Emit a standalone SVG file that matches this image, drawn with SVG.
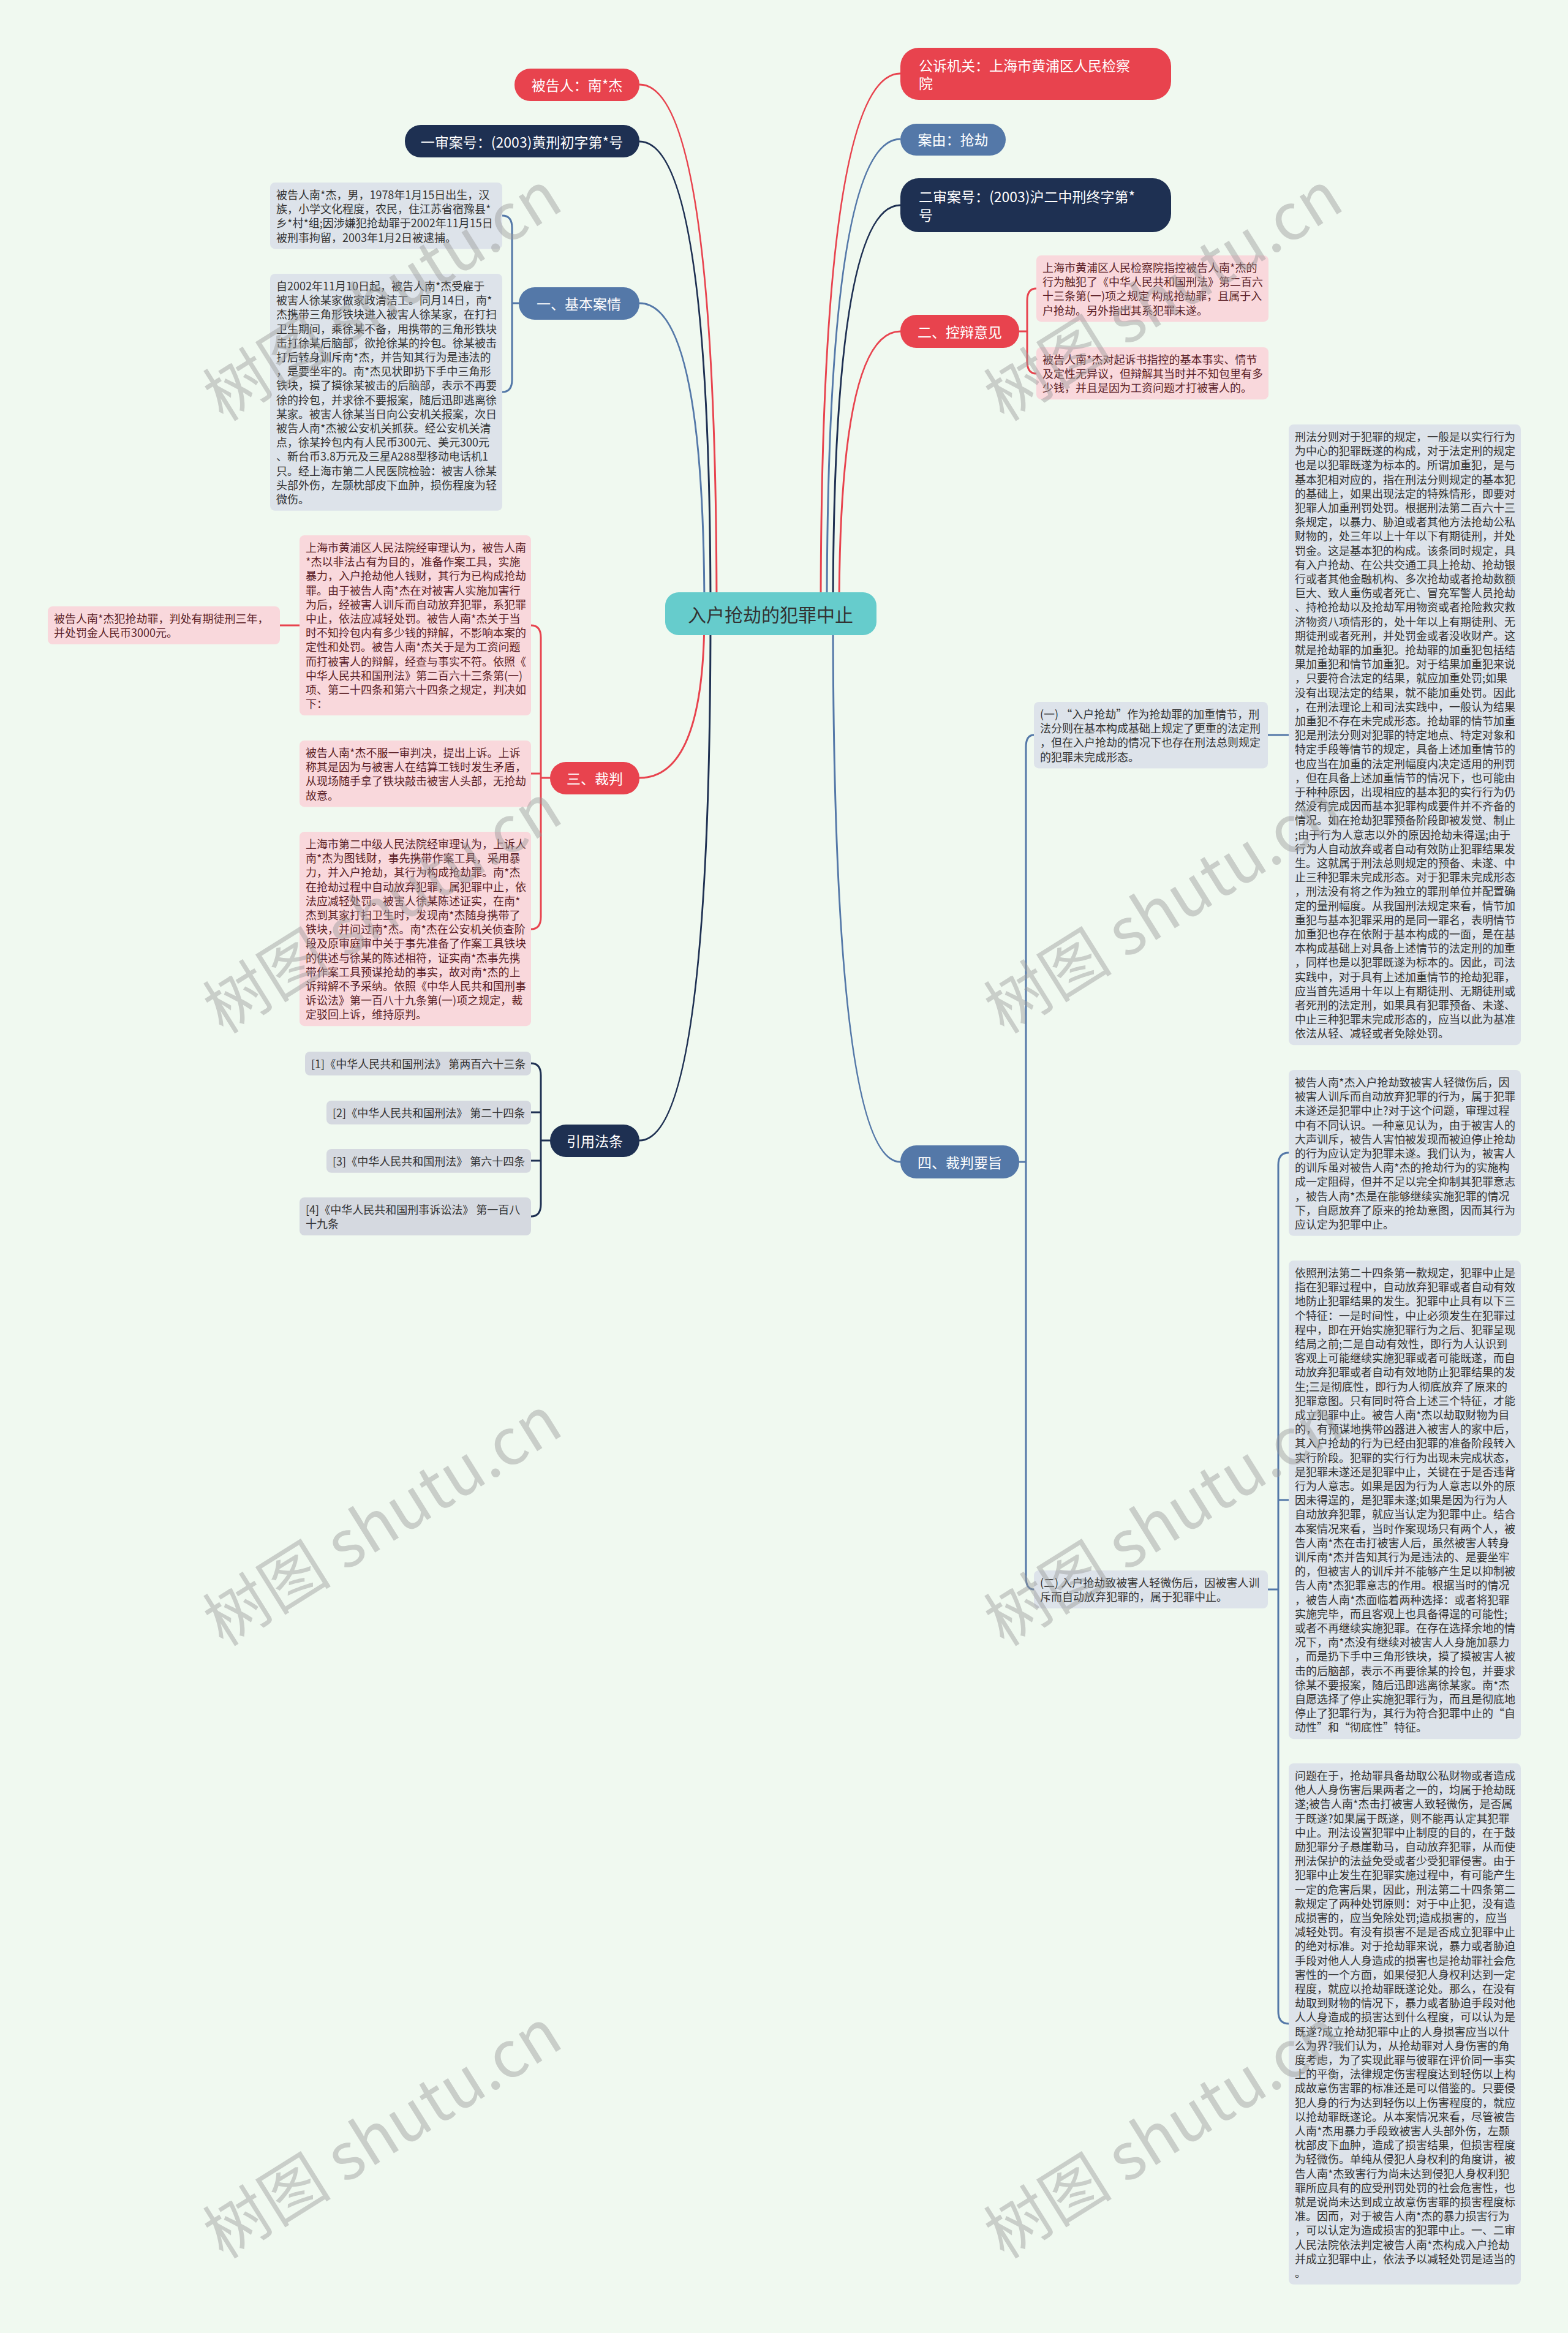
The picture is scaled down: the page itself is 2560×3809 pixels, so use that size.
<svg xmlns="http://www.w3.org/2000/svg" width="2560" height="3809" viewBox="0 0 2560 3809">
<style>
.t{font-family:"Noto Sans CJK SC","Liberation Sans",sans-serif;font-size:18px;fill:#333}
.tp{font-family:"Noto Sans CJK SC","Liberation Sans",sans-serif;font-size:18px;fill:#5b1f26}
.n{font-family:"Noto Sans CJK SC","Liberation Sans",sans-serif;font-size:23px;fill:#fff;dominant-baseline:central}
.c{font-family:"Noto Sans CJK SC","Liberation Sans",sans-serif;font-size:30px;fill:#333;dominant-baseline:central;text-anchor:middle}
.g{fill:#dde3ea}
.p{fill:#f9d8dc}
.q{fill:#d5d9e0}
.red{fill:#e8434e}
.navy{fill:#1e3052}
.blue{fill:#5478a8}
.lr{fill:none;stroke:#e8434e;stroke-width:3}
.ln{fill:none;stroke:#1e3052;stroke-width:3}
.lb{fill:none;stroke:#5478a8;stroke-width:3}
.wm{font-family:"Noto Sans CJK SC","Liberation Sans",sans-serif;font-size:105px;fill:#9a9a9a;fill-opacity:0.45}
</style>
<rect width="2560" height="3809" fill="#f0f9f0"/>
<g id="connectors">
<path class="lr" d="M1170,1002 Q1170,138 1044,138"/>
<path class="ln" d="M1160,1002 Q1160,231 1044,231"/>
<path class="lb" d="M1150,1002 Q1150,495 1044,495"/>
<path class="lr" d="M1150,1002 Q1150,1270 1044,1270"/>
<path class="ln" d="M1160,1002 Q1160,1862 1044,1862"/>
<path class="lr" d="M1340,1002 Q1340,120 1470,120"/>
<path class="lb" d="M1350,1002 Q1350,227 1470,227"/>
<path class="ln" d="M1360,1002 Q1360,335 1470,335"/>
<path class="lr" d="M1370,1002 Q1370,541 1470,541"/>
<path class="lb" d="M1360,1002 Q1360,1897 1470,1897"/>
<path class="lb" d="M820,352 Q836,352 836,372 L836,620 Q836,640 820,640 M836,495 L847,495"/>
<path class="lr" d="M867,1021 Q883,1021 883,1041 L883,1497 Q883,1517 867,1517 M867,1263 L883,1263 M883,1270 L898,1270"/>
<path class="lr" d="M489,1021 L457,1021"/>
<path class="ln" d="M867,1736 Q883,1736 883,1756 L883,1966 Q883,1986 867,1986 M867,1816 L883,1816 M867,1895 L883,1895 M883,1862 L898,1862"/>
<path class="lr" d="M1692,471 Q1677,471 1677,491 L1677,590 Q1677,610 1692,610 M1664,541 L1677,541"/>
<path class="lb" d="M1688,1200 Q1675,1200 1675,1220 L1675,2575 Q1675,2595 1688,2595 M1664,1897 L1675,1897"/>
<path class="lb" d="M2070,1200 L2104,1200"/>
<path class="lb" d="M2104,1882 Q2087,1882 2087,1902 L2087,3284 Q2087,3304 2104,3304 M2104,2449 L2087,2449 M2070,2595 L2087,2595"/>
</g>
<g id="center"><rect x="1086" y="967" width="345" height="70" rx="22" fill="#66cccc"/><text class="c" x="1258" y="1002">入户抢劫的犯罪中止</text></g>
<g id="n-defendant"><rect class="red" x="840" y="112" width="204" height="53" rx="26"/><text class="n" x="942" y="138" text-anchor="middle">被告人：南*杰</text></g>
<g id="n-case1"><rect class="navy" x="661" y="204" width="383" height="53" rx="26"/><text class="n" x="852" y="231" text-anchor="middle">一审案号：(2003)黄刑初字第*号</text></g>
<g id="n-facts"><rect class="blue" x="847" y="469" width="197" height="53" rx="26"/><text class="n" x="945" y="495" text-anchor="middle">一、基本案情</text></g>
<g id="n-judge"><rect class="red" x="898" y="1244" width="146" height="53" rx="26"/><text class="n" x="971" y="1270" text-anchor="middle">三、裁判</text></g>
<g id="n-law"><rect class="navy" x="898" y="1836" width="146" height="53" rx="26"/><text class="n" x="971" y="1862" text-anchor="middle">引用法条</text></g>
<g id="n-prosecutor"><rect class="red" x="1470" y="78" width="442" height="85" rx="30"/><text class="n" x="1500" y="106">公诉机关：上海市黄浦区人民检察</text><text class="n" x="1500" y="135">院</text></g>
<g id="n-cause"><rect class="blue" x="1470" y="202" width="172" height="52" rx="26"/><text class="n" x="1556" y="227" text-anchor="middle">案由：抢劫</text></g>
<g id="n-case2"><rect class="navy" x="1470" y="291" width="442" height="88" rx="30"/><text class="n" x="1500" y="320">二审案号：(2003)沪二中刑终字第*</text><text class="n" x="1500" y="350">号</text></g>
<g id="n-debate"><rect class="red" x="1470" y="514" width="194" height="54" rx="26"/><text class="n" x="1567" y="541" text-anchor="middle">二、控辩意见</text></g>
<g id="n-gist"><rect class="blue" x="1470" y="1870" width="194" height="54" rx="26"/><text class="n" x="1567" y="1897" text-anchor="middle">四、裁判要旨</text></g>
<g id="facts-1"><rect class="g" x="441" y="298" width="379" height="108.4" rx="8"/><text class="t" y="325"><tspan x="451">被告人南*杰，男，1978年1月15日出生，汉</tspan><tspan x="451" dy="23.2">族，小学文化程度，农民，住江苏省宿豫县*</tspan><tspan x="451" dy="23.2">乡*村*组;因涉嫌犯抢劫罪于2002年11月15日</tspan><tspan x="451" dy="23.2">被刑事拘留，2003年1月2日被逮捕。</tspan></text></g>
<g id="facts-2"><rect class="g" x="441" y="447" width="379" height="386.8" rx="8"/><text class="t" y="474"><tspan x="451">自2002年11月10日起，被告人南*杰受雇于</tspan><tspan x="451" dy="23.2">被害人徐某家做家政清洁工。同月14日，南*</tspan><tspan x="451" dy="23.2">杰携带三角形铁块进入被害人徐某家，在打扫</tspan><tspan x="451" dy="23.2">卫生期间，乘徐某不备，用携带的三角形铁块</tspan><tspan x="451" dy="23.2">击打徐某后脑部，欲抢徐某的拎包。徐某被击</tspan><tspan x="451" dy="23.2">打后转身训斥南*杰，并告知其行为是违法的</tspan><tspan x="451" dy="23.2">，是要坐牢的。南*杰见状即扔下手中三角形</tspan><tspan x="451" dy="23.2">铁块，摸了摸徐某被击的后脑部，表示不再要</tspan><tspan x="451" dy="23.2">徐的拎包，并求徐不要报案，随后迅即逃离徐</tspan><tspan x="451" dy="23.2">某家。被害人徐某当日向公安机关报案，次日</tspan><tspan x="451" dy="23.2">被告人南*杰被公安机关抓获。经公安机关清</tspan><tspan x="451" dy="23.2">点，徐某拎包内有人民币300元、美元300元</tspan><tspan x="451" dy="23.2">、新台币3.8万元及三星A288型移动电话机1</tspan><tspan x="451" dy="23.2">只。经上海市第二人民医院检验：被害人徐某</tspan><tspan x="451" dy="23.2">头部外伤，左颞枕部皮下血肿，损伤程度为轻</tspan><tspan x="451" dy="23.2">微伤。</tspan></text></g>
<g id="judge-1"><rect class="p" x="489" y="874" width="378" height="294" rx="8"/><text class="tp" y="901"><tspan x="499">上海市黄浦区人民法院经审理认为，被告人南</tspan><tspan x="499" dy="23.2">*杰以非法占有为目的，准备作案工具，实施</tspan><tspan x="499" dy="23.2">暴力，入户抢劫他人钱财，其行为已构成抢劫</tspan><tspan x="499" dy="23.2">罪。由于被告人南*杰在对被害人实施加害行</tspan><tspan x="499" dy="23.2">为后，经被害人训斥而自动放弃犯罪，系犯罪</tspan><tspan x="499" dy="23.2">中止，依法应减轻处罚。被告人南*杰关于当</tspan><tspan x="499" dy="23.2">时不知拎包内有多少钱的辩解，不影响本案的</tspan><tspan x="499" dy="23.2">定性和处罚。被告人南*杰关于是为工资问题</tspan><tspan x="499" dy="23.2">而打被害人的辩解，经查与事实不符。依照《</tspan><tspan x="499" dy="23.2">中华人民共和国刑法》第二百六十三条第(一)</tspan><tspan x="499" dy="23.2">项、第二十四条和第六十四条之规定，判决如</tspan><tspan x="499" dy="23.2">下：</tspan></text></g>
<g id="judge-1a"><rect class="p" x="78" y="990" width="379" height="62" rx="8"/><text class="tp" y="1017"><tspan x="88">被告人南*杰犯抢劫罪，判处有期徒刑三年，</tspan><tspan x="88" dy="23.2">并处罚金人民币3000元。</tspan></text></g>
<g id="judge-2"><rect class="p" x="489" y="1209" width="378" height="108.4" rx="8"/><text class="tp" y="1236"><tspan x="499">被告人南*杰不服一审判决，提出上诉。上诉</tspan><tspan x="499" dy="23.2">称其是因为与被害人在结算工钱时发生矛盾，</tspan><tspan x="499" dy="23.2">从现场随手拿了铁块敲击被害人头部，无抢劫</tspan><tspan x="499" dy="23.2">故意。</tspan></text></g>
<g id="judge-3"><rect class="p" x="489" y="1358" width="378" height="317.2" rx="8"/><text class="tp" y="1385"><tspan x="499">上海市第二中级人民法院经审理认为，上诉人</tspan><tspan x="499" dy="23.2">南*杰为图钱财，事先携带作案工具，采用暴</tspan><tspan x="499" dy="23.2">力，并入户抢劫，其行为构成抢劫罪。南*杰</tspan><tspan x="499" dy="23.2">在抢劫过程中自动放弃犯罪，属犯罪中止，依</tspan><tspan x="499" dy="23.2">法应减轻处罚。被害人徐某陈述证实，在南*</tspan><tspan x="499" dy="23.2">杰到其家打扫卫生时，发现南*杰随身携带了</tspan><tspan x="499" dy="23.2">铁块，并问过南*杰。南*杰在公安机关侦查阶</tspan><tspan x="499" dy="23.2">段及原审庭审中关于事先准备了作案工具铁块</tspan><tspan x="499" dy="23.2">的供述与徐某的陈述相符，证实南*杰事先携</tspan><tspan x="499" dy="23.2">带作案工具预谋抢劫的事实，故对南*杰的上</tspan><tspan x="499" dy="23.2">诉辩解不予采纳。依照《中华人民共和国刑事</tspan><tspan x="499" dy="23.2">诉讼法》第一百八十九条第(一)项之规定，裁</tspan><tspan x="499" dy="23.2">定驳回上诉，维持原判。</tspan></text></g>
<g id="law-1"><rect class="q" x="498" y="1717" width="369" height="38.8" rx="8"/><text class="t" x="508" y="1744">[1]《中华人民共和国刑法》 第两百六十三条</text></g>
<g id="law-2"><rect class="q" x="533" y="1797" width="334" height="38.8" rx="8"/><text class="t" x="543" y="1824">[2]《中华人民共和国刑法》 第二十四条</text></g>
<g id="law-3"><rect class="q" x="533" y="1876" width="334" height="38.8" rx="8"/><text class="t" x="543" y="1903">[3]《中华人民共和国刑法》 第六十四条</text></g>
<g id="law-4"><rect class="q" x="489" y="1955" width="378" height="62" rx="8"/><text class="t" y="1982"><tspan x="499">[4]《中华人民共和国刑事诉讼法》 第一百八</tspan><tspan x="499" dy="23.2">十九条</tspan></text></g>
<g id="debate-1"><rect class="p" x="1692" y="417" width="379" height="108.4" rx="8"/><text class="tp" y="444"><tspan x="1702">上海市黄浦区人民检察院指控被告人南*杰的</tspan><tspan x="1702" dy="23.2">行为触犯了《中华人民共和国刑法》第二百六</tspan><tspan x="1702" dy="23.2">十三条第(一)项之规定 构成抢劫罪，且属于入</tspan><tspan x="1702" dy="23.2">户抢劫。另外指出其系犯罪未遂。</tspan></text></g>
<g id="debate-2"><rect class="p" x="1692" y="567" width="379" height="85.2" rx="8"/><text class="tp" y="594"><tspan x="1702">被告人南*杰对起诉书指控的基本事实、情节</tspan><tspan x="1702" dy="23.2">及定性无异议，但辩解其当时并不知包里有多</tspan><tspan x="1702" dy="23.2">少钱，并且是因为工资问题才打被害人的。</tspan></text></g>
<g id="gist-1"><rect class="g" x="1688" y="1146" width="382" height="108.4" rx="8"/><text class="t" y="1173"><tspan x="1698">(一) “入户抢劫”作为抢劫罪的加重情节，刑</tspan><tspan x="1698" dy="23.2">法分则在基本构成基础上规定了更重的法定刑</tspan><tspan x="1698" dy="23.2">，但在入户抢劫的情况下也存在刑法总则规定</tspan><tspan x="1698" dy="23.2">的犯罪未完成形态。</tspan></text></g>
<g id="gist-2"><rect class="g" x="1688" y="2564" width="382" height="62" rx="8"/><text class="t" y="2591"><tspan x="1698">(二) 入户抢劫致被害人轻微伤后，因被害人训</tspan><tspan x="1698" dy="23.2">斥而自动放弃犯罪的，属于犯罪中止。</tspan></text></g>
<g id="gist-1a"><rect class="g" x="2104" y="693" width="379" height="1013.2" rx="8"/><text class="t" y="720"><tspan x="2114">刑法分则对于犯罪的规定，一般是以实行行为</tspan><tspan x="2114" dy="23.2">为中心的犯罪既遂的构成，对于法定刑的规定</tspan><tspan x="2114" dy="23.2">也是以犯罪既遂为标本的。所谓加重犯，是与</tspan><tspan x="2114" dy="23.2">基本犯相对应的，指在刑法分则规定的基本犯</tspan><tspan x="2114" dy="23.2">的基础上，如果出现法定的特殊情形，即要对</tspan><tspan x="2114" dy="23.2">犯罪人加重刑罚处罚。根据刑法第二百六十三</tspan><tspan x="2114" dy="23.2">条规定，以暴力、胁迫或者其他方法抢劫公私</tspan><tspan x="2114" dy="23.2">财物的，处三年以上十年以下有期徒刑，并处</tspan><tspan x="2114" dy="23.2">罚金。这是基本犯的构成。该条同时规定，具</tspan><tspan x="2114" dy="23.2">有入户抢劫、在公共交通工具上抢劫、抢劫银</tspan><tspan x="2114" dy="23.2">行或者其他金融机构、多次抢劫或者抢劫数额</tspan><tspan x="2114" dy="23.2">巨大、致人重伤或者死亡、冒充军警人员抢劫</tspan><tspan x="2114" dy="23.2">、持枪抢劫以及抢劫军用物资或者抢险救灾救</tspan><tspan x="2114" dy="23.2">济物资八项情形的，处十年以上有期徒刑、无</tspan><tspan x="2114" dy="23.2">期徒刑或者死刑，并处罚金或者没收财产。这</tspan><tspan x="2114" dy="23.2">就是抢劫罪的加重犯。抢劫罪的加重犯包括结</tspan><tspan x="2114" dy="23.2">果加重犯和情节加重犯。对于结果加重犯来说</tspan><tspan x="2114" dy="23.2">，只要符合法定的结果，就应加重处罚;如果</tspan><tspan x="2114" dy="23.2">没有出现法定的结果，就不能加重处罚。因此</tspan><tspan x="2114" dy="23.2">，在刑法理论上和司法实践中，一般认为结果</tspan><tspan x="2114" dy="23.2">加重犯不存在未完成形态。抢劫罪的情节加重</tspan><tspan x="2114" dy="23.2">犯是刑法分则对犯罪的特定地点、特定对象和</tspan><tspan x="2114" dy="23.2">特定手段等情节的规定，具备上述加重情节的</tspan><tspan x="2114" dy="23.2">也应当在加重的法定刑幅度内决定适用的刑罚</tspan><tspan x="2114" dy="23.2">，但在具备上述加重情节的情况下，也可能由</tspan><tspan x="2114" dy="23.2">于种种原因，出现相应的基本犯的实行行为仍</tspan><tspan x="2114" dy="23.2">然没有完成因而基本犯罪构成要件并不齐备的</tspan><tspan x="2114" dy="23.2">情况。如在抢劫犯罪预备阶段即被发觉、制止</tspan><tspan x="2114" dy="23.2">;由于行为人意志以外的原因抢劫未得逞;由于</tspan><tspan x="2114" dy="23.2">行为人自动放弃或者自动有效防止犯罪结果发</tspan><tspan x="2114" dy="23.2">生。这就属于刑法总则规定的预备、未遂、中</tspan><tspan x="2114" dy="23.2">止三种犯罪未完成形态。对于犯罪未完成形态</tspan><tspan x="2114" dy="23.2">，刑法没有将之作为独立的罪刑单位并配置确</tspan><tspan x="2114" dy="23.2">定的量刑幅度。从我国刑法规定来看，情节加</tspan><tspan x="2114" dy="23.2">重犯与基本犯罪采用的是同一罪名，表明情节</tspan><tspan x="2114" dy="23.2">加重犯也存在依附于基本构成的一面，是在基</tspan><tspan x="2114" dy="23.2">本构成基础上对具备上述情节的法定刑的加重</tspan><tspan x="2114" dy="23.2">，同样也是以犯罪既遂为标本的。因此，司法</tspan><tspan x="2114" dy="23.2">实践中，对于具有上述加重情节的抢劫犯罪，</tspan><tspan x="2114" dy="23.2">应当首先适用十年以上有期徒刑、无期徒刑或</tspan><tspan x="2114" dy="23.2">者死刑的法定刑，如果具有犯罪预备、未遂、</tspan><tspan x="2114" dy="23.2">中止三种犯罪未完成形态的，应当以此为基准</tspan><tspan x="2114" dy="23.2">依法从轻、减轻或者免除处罚。</tspan></text></g>
<g id="gist-2a"><rect class="g" x="2104" y="1747" width="379" height="270.8" rx="8"/><text class="t" y="1774"><tspan x="2114">被告人南*杰入户抢劫致被害人轻微伤后，因</tspan><tspan x="2114" dy="23.2">被害人训斥而自动放弃犯罪的行为，属于犯罪</tspan><tspan x="2114" dy="23.2">未遂还是犯罪中止?对于这个问题，审理过程</tspan><tspan x="2114" dy="23.2">中有不同认识。一种意见认为，由于被害人的</tspan><tspan x="2114" dy="23.2">大声训斥，被告人害怕被发现而被迫停止抢劫</tspan><tspan x="2114" dy="23.2">的行为应认定为犯罪未遂。我们认为，被害人</tspan><tspan x="2114" dy="23.2">的训斥虽对被告人南*杰的抢劫行为的实施构</tspan><tspan x="2114" dy="23.2">成一定阻碍，但并不足以完全抑制其犯罪意志</tspan><tspan x="2114" dy="23.2">，被告人南*杰是在能够继续实施犯罪的情况</tspan><tspan x="2114" dy="23.2">下，自愿放弃了原来的抢劫意图，因而其行为</tspan><tspan x="2114" dy="23.2">应认定为犯罪中止。</tspan></text></g>
<g id="gist-2b"><rect class="g" x="2104" y="2058" width="379" height="781.2" rx="8"/><text class="t" y="2085"><tspan x="2114">依照刑法第二十四条第一款规定，犯罪中止是</tspan><tspan x="2114" dy="23.2">指在犯罪过程中，自动放弃犯罪或者自动有效</tspan><tspan x="2114" dy="23.2">地防止犯罪结果的发生。犯罪中止具有以下三</tspan><tspan x="2114" dy="23.2">个特征：一是时间性，中止必须发生在犯罪过</tspan><tspan x="2114" dy="23.2">程中，即在开始实施犯罪行为之后、犯罪呈现</tspan><tspan x="2114" dy="23.2">结局之前;二是自动有效性，即行为人认识到</tspan><tspan x="2114" dy="23.2">客观上可能继续实施犯罪或者可能既遂，而自</tspan><tspan x="2114" dy="23.2">动放弃犯罪或者自动有效地防止犯罪结果的发</tspan><tspan x="2114" dy="23.2">生;三是彻底性，即行为人彻底放弃了原来的</tspan><tspan x="2114" dy="23.2">犯罪意图。只有同时符合上述三个特征，才能</tspan><tspan x="2114" dy="23.2">成立犯罪中止。被告人南*杰以劫取财物为目</tspan><tspan x="2114" dy="23.2">的，有预谋地携带凶器进入被害人的家中后，</tspan><tspan x="2114" dy="23.2">其入户抢劫的行为已经由犯罪的准备阶段转入</tspan><tspan x="2114" dy="23.2">实行阶段。犯罪的实行行为出现未完成状态，</tspan><tspan x="2114" dy="23.2">是犯罪未遂还是犯罪中止，关键在于是否违背</tspan><tspan x="2114" dy="23.2">行为人意志。如果是因为行为人意志以外的原</tspan><tspan x="2114" dy="23.2">因未得逞的，是犯罪未遂;如果是因为行为人</tspan><tspan x="2114" dy="23.2">自动放弃犯罪，就应当认定为犯罪中止。结合</tspan><tspan x="2114" dy="23.2">本案情况来看，当时作案现场只有两个人，被</tspan><tspan x="2114" dy="23.2">告人南*杰在击打被害人后，虽然被害人转身</tspan><tspan x="2114" dy="23.2">训斥南*杰并告知其行为是违法的、是要坐牢</tspan><tspan x="2114" dy="23.2">的，但被害人的训斥并不能够产生足以抑制被</tspan><tspan x="2114" dy="23.2">告人南*杰犯罪意志的作用。根据当时的情况</tspan><tspan x="2114" dy="23.2">，被告人南*杰面临着两种选择：或者将犯罪</tspan><tspan x="2114" dy="23.2">实施完毕，而且客观上也具备得逞的可能性;</tspan><tspan x="2114" dy="23.2">或者不再继续实施犯罪。在存在选择余地的情</tspan><tspan x="2114" dy="23.2">况下，南*杰没有继续对被害人人身施加暴力</tspan><tspan x="2114" dy="23.2">，而是扔下手中三角形铁块，摸了摸被害人被</tspan><tspan x="2114" dy="23.2">击的后脑部，表示不再要徐某的拎包，并要求</tspan><tspan x="2114" dy="23.2">徐某不要报案，随后迅即逃离徐某家。南*杰</tspan><tspan x="2114" dy="23.2">自愿选择了停止实施犯罪行为，而且是彻底地</tspan><tspan x="2114" dy="23.2">停止了犯罪行为，其行为符合犯罪中止的“自</tspan><tspan x="2114" dy="23.2">动性”和“彻底性”特征。</tspan></text></g>
<g id="gist-2c"><rect class="g" x="2104" y="2879" width="379" height="850.8" rx="8"/><text class="t" y="2906"><tspan x="2114">问题在于，抢劫罪具备劫取公私财物或者造成</tspan><tspan x="2114" dy="23.2">他人人身伤害后果两者之一的，均属于抢劫既</tspan><tspan x="2114" dy="23.2">遂;被告人南*杰击打被害人致轻微伤，是否属</tspan><tspan x="2114" dy="23.2">于既遂?如果属于既遂，则不能再认定其犯罪</tspan><tspan x="2114" dy="23.2">中止。刑法设置犯罪中止制度的目的，在于鼓</tspan><tspan x="2114" dy="23.2">励犯罪分子悬崖勒马，自动放弃犯罪，从而使</tspan><tspan x="2114" dy="23.2">刑法保护的法益免受或者少受犯罪侵害。由于</tspan><tspan x="2114" dy="23.2">犯罪中止发生在犯罪实施过程中，有可能产生</tspan><tspan x="2114" dy="23.2">一定的危害后果，因此，刑法第二十四条第二</tspan><tspan x="2114" dy="23.2">款规定了两种处罚原则：对于中止犯，没有造</tspan><tspan x="2114" dy="23.2">成损害的，应当免除处罚;造成损害的，应当</tspan><tspan x="2114" dy="23.2">减轻处罚。有没有损害不是是否成立犯罪中止</tspan><tspan x="2114" dy="23.2">的绝对标准。对于抢劫罪来说，暴力或者胁迫</tspan><tspan x="2114" dy="23.2">手段对他人人身造成的损害也是抢劫罪社会危</tspan><tspan x="2114" dy="23.2">害性的一个方面，如果侵犯人身权利达到一定</tspan><tspan x="2114" dy="23.2">程度，就应以抢劫罪既遂论处。那么，在没有</tspan><tspan x="2114" dy="23.2">劫取到财物的情况下，暴力或者胁迫手段对他</tspan><tspan x="2114" dy="23.2">人人身造成的损害达到什么程度，可以认为是</tspan><tspan x="2114" dy="23.2">既遂?成立抢劫犯罪中止的人身损害应当以什</tspan><tspan x="2114" dy="23.2">么为界?我们认为，从抢劫罪对人身伤害的角</tspan><tspan x="2114" dy="23.2">度考虑，为了实现此罪与彼罪在评价同一事实</tspan><tspan x="2114" dy="23.2">上的平衡，法律规定伤害程度达到轻伤以上构</tspan><tspan x="2114" dy="23.2">成故意伤害罪的标准还是可以借鉴的。只要侵</tspan><tspan x="2114" dy="23.2">犯人身的行为达到轻伤以上伤害程度的，就应</tspan><tspan x="2114" dy="23.2">以抢劫罪既遂论。从本案情况来看，尽管被告</tspan><tspan x="2114" dy="23.2">人南*杰用暴力手段致被害人头部外伤，左颞</tspan><tspan x="2114" dy="23.2">枕部皮下血肿，造成了损害结果，但损害程度</tspan><tspan x="2114" dy="23.2">为轻微伤。单纯从侵犯人身权利的角度讲，被</tspan><tspan x="2114" dy="23.2">告人南*杰致害行为尚未达到侵犯人身权利犯</tspan><tspan x="2114" dy="23.2">罪所应具有的应受刑罚处罚的社会危害性，也</tspan><tspan x="2114" dy="23.2">就是说尚未达到成立故意伤害罪的损害程度标</tspan><tspan x="2114" dy="23.2">准。因而，对于被告人南*杰的暴力损害行为</tspan><tspan x="2114" dy="23.2">，可以认定为造成损害的犯罪中止。一、二审</tspan><tspan x="2114" dy="23.2">人民法院依法判定被告人南*杰构成入户抢劫</tspan><tspan x="2114" dy="23.2">并成立犯罪中止，依法予以减轻处罚是适当的</tspan><tspan x="2114" dy="23.2">。</tspan></text></g>
<g id="watermarks">
<text class="wm" x="644" y="515" text-anchor="middle" transform="rotate(-32 644 515)">树图 shutu.cn</text>
<text class="wm" x="1919" y="515" text-anchor="middle" transform="rotate(-32 1919 515)">树图 shutu.cn</text>
<text class="wm" x="644" y="1515" text-anchor="middle" transform="rotate(-32 644 1515)">树图 shutu.cn</text>
<text class="wm" x="1919" y="1515" text-anchor="middle" transform="rotate(-32 1919 1515)">树图 shutu.cn</text>
<text class="wm" x="644" y="2515" text-anchor="middle" transform="rotate(-32 644 2515)">树图 shutu.cn</text>
<text class="wm" x="1919" y="2515" text-anchor="middle" transform="rotate(-32 1919 2515)">树图 shutu.cn</text>
<text class="wm" x="644" y="3515" text-anchor="middle" transform="rotate(-32 644 3515)">树图 shutu.cn</text>
<text class="wm" x="1919" y="3515" text-anchor="middle" transform="rotate(-32 1919 3515)">树图 shutu.cn</text>
</g>
</svg>
